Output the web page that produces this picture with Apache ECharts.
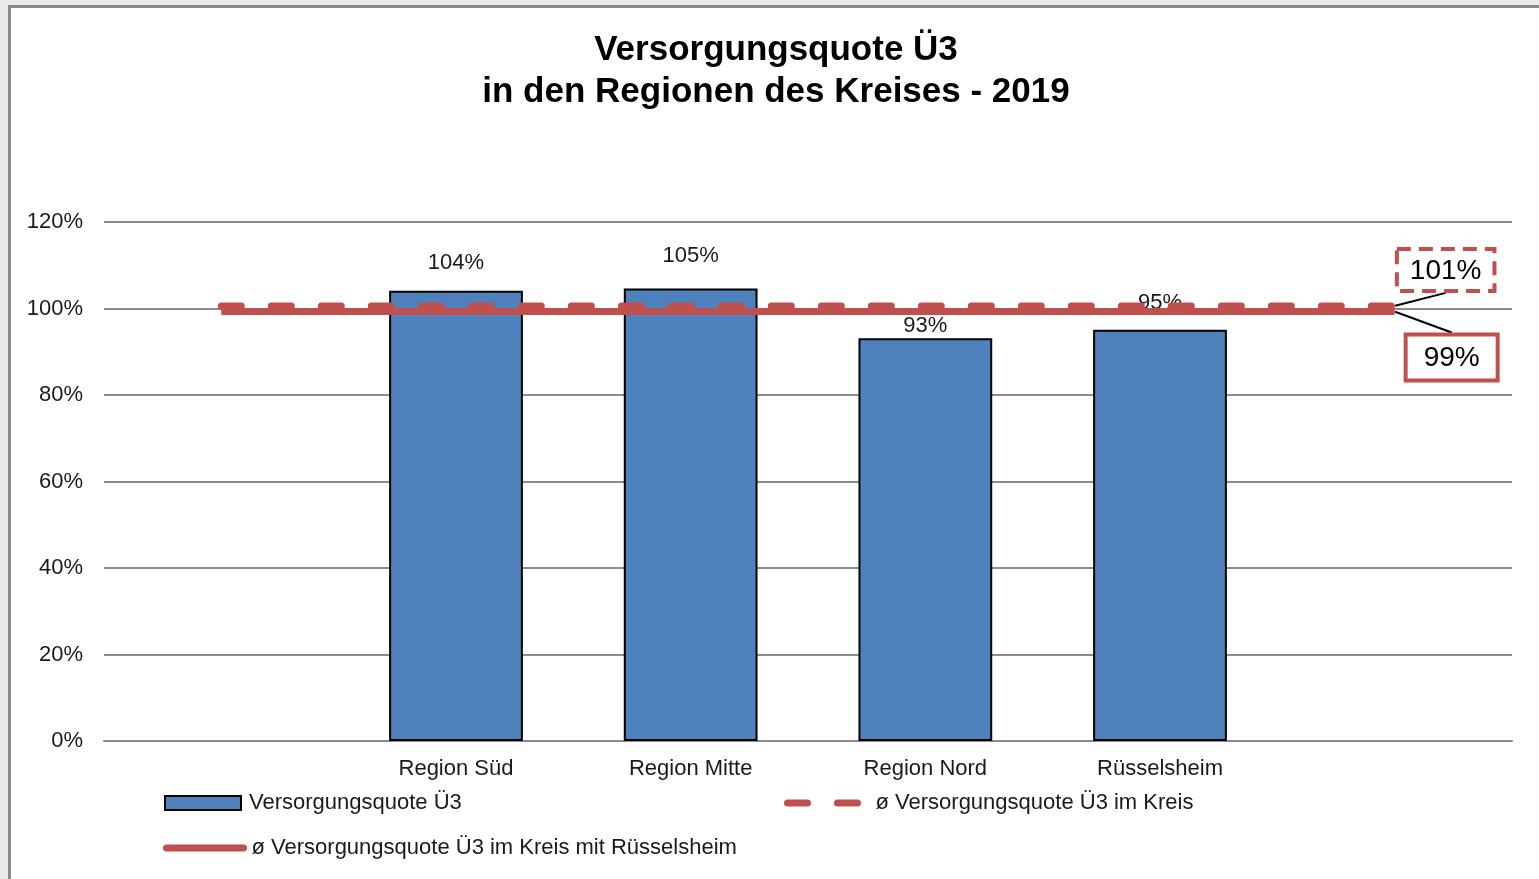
<!DOCTYPE html>
<html>
<head>
<meta charset="utf-8">
<title>Versorgungsquote Ü3</title>
<script src="https://cdn.jsdelivr.net/npm/echarts@6/dist/echarts.min.js"></script>
<style>
  html, body { margin: 0; padding: 0; background: #e9e9e9; }
  #frame {
    position: absolute; left: 8px; top: 5px; right: 0; bottom: 0;
    background: #fff;
    border-left: 3px solid #8a8a8a;
    border-top: 3px solid #8a8a8a;
  }
  #chart { position: absolute; left: 0; top: 0; width: 1539px; height: 879px; }
</style>
</head>
<body>
<div id="frame"></div>
<div id="chart"></div>
<script>
// categories (empty slots at both ends carry only the average lines)
const categories = ['', 'Region Süd', 'Region Mitte', 'Region Nord', 'Rüsselsheim', ''];
// Versorgungsquote Ü3 in %
const quoteValues = [null, 104.1, 104.6, 93.1, 95.1, null];
// ø Versorgungsquote Ü3 im Kreis
const kreisAvg = [100.6, 100.6, 100.6, 100.6, 100.6, 100.6];
// ø Versorgungsquote Ü3 im Kreis mit Rüsselsheim
const kreisAvgMitRuesselsheim = [99.3, 99.3, 99.3, 99.3, 99.3, 99.3];
// y axis
const yMin = 0;
const yMax = 120;
const yStep = 20;

const seriesNames = [
  'Versorgungsquote Ü3',
  'ø Versorgungsquote Ü3 im Kreis',
  'ø Versorgungsquote Ü3 im Kreis mit Rüsselsheim',
];

const RED = '#c0504d';
const BLUE = '#4f81bd';
const TEXT = '#1a1a1a';
const FONT = '"Liberation Sans", Arial, sans-serif';
const FS = 22;

// label gap above each bar (Excel labels were placed by hand)
const barLabelGap = [0, 17, 22, 1, 16, 0];

const pct = (p) => `${Math.round(p.value)}%`;

function endLabelData(values, label) {
  return values.map((v, i) => (i === values.length - 1
    ? { value: v, symbol: 'circle', symbolSize: 1, label }
    : v));
}

// callout box; an empty spacer line makes the leader line hit the box's near edge
function calloutLabel(spacerBelow, boxStyle) {
  return {
    show: true,
    position: 'inside',
    formatter: (p) => (spacerBelow
      ? `{box|${pct(p)}}\n{gap| }`
      : `{gap| }\n{box|${pct(p)}}`),
    rich: {
      gap: { height: 90, lineHeight: 90, fontSize: 1 },
      box: {
        fontFamily: FONT,
        fontSize: 28,
        color: '#000',
        borderColor: RED,
        borderWidth: 4,
        ...boxStyle,
      },
    },
  };
}

const chart = echarts.init(document.getElementById('chart'));

const legendBase = {
  orient: 'horizontal',
  padding: 0,
  itemHeight: 14,
  textStyle: { fontFamily: FONT, fontSize: FS, color: TEXT, padding: [0, 0, 0, 3] },
};

chart.setOption({
  animation: false,
  textStyle: { fontFamily: FONT },
  title: {
    text: 'Versorgungsquote Ü3\nin den Regionen des Kreises - 2019',
    left: 776,
    top: 29,
    padding: 0,
    textAlign: 'center',
    textStyle: {
      fontFamily: FONT, fontSize: 35, fontWeight: 'bold', color: '#000', lineHeight: 42,
    },
  },
  legend: [
    {
      ...legendBase, data: [seriesNames[0]], left: 164, top: 792, itemWidth: 76, icon: 'rect',
    },
    {
      ...legendBase,
      data: [seriesNames[1]],
      left: 784,
      top: 792,
      itemWidth: 80,
      itemStyle: { opacity: 0 },
      lineStyle: { color: RED, width: 7, type: [20, 30], cap: 'round' },
    },
    {
      ...legendBase,
      data: [seriesNames[2]],
      left: 163,
      top: 837,
      itemWidth: 77,
      itemStyle: { opacity: 0 },
      lineStyle: { color: RED, width: 7, cap: 'round' },
    },
  ],
  grid: {
    left: 104, right: 27, top: 222, bottom: 138,
  },
  xAxis: {
    type: 'category',
    data: categories,
    axisTick: { show: false },
    axisLine: { lineStyle: { color: '#8c8c8c', width: 2 } },
    axisLabel: {
      fontFamily: FONT, fontSize: FS, color: TEXT, margin: 17,
    },
  },
  yAxis: {
    type: 'value',
    min: yMin,
    max: yMax,
    interval: yStep,
    axisLine: { show: false },
    axisTick: { show: false },
    axisLabel: {
      formatter: '{value}%', fontFamily: FONT, fontSize: FS, color: TEXT, margin: 21,
    },
    splitLine: { lineStyle: { color: '#8c8c8c', width: 2 } },
  },
  series: [
    {
      name: seriesNames[0],
      type: 'bar',
      barWidth: '57%',
      data: quoteValues.map((v, i) => (v === null ? null : {
        value: v,
        label: { distance: barLabelGap[i] },
      })),
      itemStyle: { color: BLUE, borderColor: '#000', borderWidth: 2 },
      label: {
        show: true,
        position: 'top',
        formatter: pct,
        fontFamily: FONT,
        fontSize: FS,
        color: TEXT,
      },
      z: 2,
    },
    {
      name: seriesNames[2],
      type: 'line',
      symbol: 'none',
      data: endLabelData(kreisAvgMitRuesselsheim, calloutLabel(true, {
        backgroundColor: '#fff',
        padding: [8, 16, 6, 16],
      })),
      lineStyle: { color: RED, width: 7, cap: 'butt' },
      itemStyle: { color: RED },
      labelLayout: { dx: 57, dy: 91 },
      labelLine: { show: true, lineStyle: { color: '#000', width: 2 } },
      z: 3,
    },
    {
      name: seriesNames[1],
      type: 'line',
      symbol: 'none',
      data: endLabelData(kreisAvg, calloutLabel(false, {
        borderType: [14, 8],
        padding: [8, 13, 6, 13],
      })),
      lineStyle: { color: RED, width: 7, type: [20, 30], cap: 'round' },
      itemStyle: { color: RED },
      labelLayout: { dx: 51, dy: -81 },
      labelLine: { show: true, lineStyle: { color: '#000', width: 2 } },
      z: 4,
    },
  ],
});
</script>
</body>
</html>
